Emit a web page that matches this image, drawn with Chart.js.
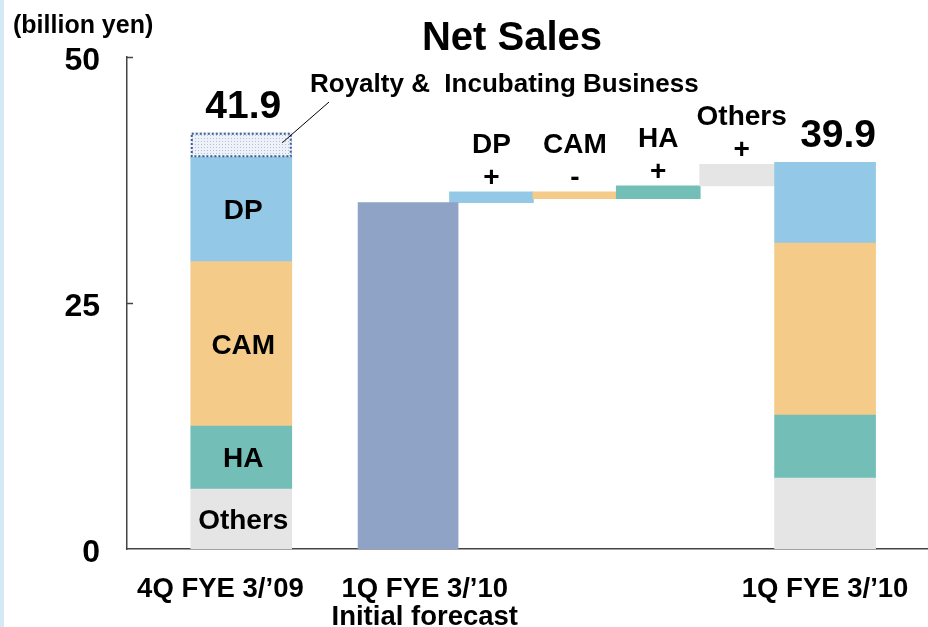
<!DOCTYPE html>
<html>
<head>
<meta charset="utf-8">
<script src="https://cdn.jsdelivr.net/npm/chart.js@4"></script>
<style>
  html, body { margin: 0; padding: 0; background: #fff; }
  #wrap { width: 928px; height: 627px; }
</style>
</head>
<body>
<div id="wrap"><canvas id="chart" width="928" height="627"></canvas></div>
<script>
// x slots (bar position = index in this list, slot 1 is an empty gap)
const slots = ["4Q FYE 3/\u201909", "", ["1Q FYE 3/\u201910", "Initial forecast"], "DP", "CAM", "HA", "Others", "1Q FYE 3/\u201910"];
const labelSlots = [0, 2, 7];
const yTicks = [0, 25, 50];

// stacked segments, bottom to top
const segments = ['Others', 'HA', 'CAM', 'DP'];
const q4FY09 = [6.1, 6.4, 16.7, 10.6];
const royaltyIncubating = 2.5;
const q1FY10 = [7.2, 6.4, 17.5, 8.2];

// waterfall from the initial forecast
const initialForecast = 35.2;
const changeNames = ['DP', 'CAM', 'HA', 'Others'];
const changes = [1.1, -0.7, 1.3, 2.2];

const totalLabels = ['41.9', '39.9'];

const segColors = { Others: '#e5e5e5', HA: '#73bfb7', CAM: '#f4cb89', DP: '#93c9e7' };
const FONT = '"Liberation Sans", Arial, sans-serif';
const bold = px => 'bold ' + px + 'px ' + FONT;

// the category texts sit a little off their bars in the original slide
const labelShift = [-0.25, 0.2, 0];

// dotted fill for the royalty box
function dotPattern() {
    const c = document.createElement('canvas');
    c.width = 3; c.height = 3;
    const g = c.getContext('2d');
    g.fillStyle = '#eef1f7';
    g.fillRect(0, 0, 3, 3);
    g.fillStyle = '#b3c0d9';
    g.fillRect(0, 0, 1, 1);
    return g.createPattern(c, 'repeat');
}

const firstX = 0;
const forecastX = 2;
const lastX = slots.length - 1;

const datasets = [];
let c0 = 0, c1 = 0;
segments.forEach((s, i) => {
    datasets.push({
        label: s,
        data: [
            { x: firstX, y: [c0, c0 + q4FY09[i]] },
            { x: lastX, y: [c1, c1 + q1FY10[i]] }
        ],
        backgroundColor: segColors[s],
        barThickness: 101
    });
    c0 += q4FY09[i];
    c1 += q1FY10[i];
});

datasets.push({
    label: 'Royalty & Incubating Business',
    data: [{ x: firstX, y: [c0, c0 + royaltyIncubating] }],
    backgroundColor: dotPattern(),
    barThickness: 101
});

datasets.push({
    label: 'Initial forecast',
    data: [{ x: forecastX, y: [0, initialForecast] }],
    backgroundColor: '#8fa3c6',
    barThickness: 100
});

let level = initialForecast;
datasets.push({
    label: 'Changes',
    data: changes.map((d, i) => {
        const lo = level;
        level += d;
        return { x: slots.indexOf(changeNames[i]), y: [lo, level] };
    }),
    backgroundColor: changeNames.map(n => segColors[n]),
    barThickness: 84
});

datasets.forEach(d => { d.grouped = false; d.borderWidth = 0; });

const ROYALTY = segments.length;
const WATERFALL = datasets.length - 1;

// texts and small marks drawn on top of the chart
const annotate = {
    id: 'annotate',
    beforeDraw(chart) {
        const ctx = chart.ctx;
        ctx.save();
        ctx.fillStyle = '#fff';
        ctx.fillRect(0, 0, chart.width, chart.height);
        ctx.fillStyle = '#d4e8f6';
        ctx.fillRect(0, 0, 4, chart.height);
        ctx.restore();
    },
    afterDatasetsDraw(chart) {
        const ctx = chart.ctx;
        const yScale = chart.scales.y;
        const left = chart.chartArea.left;
        ctx.save();
        // inward ticks on the y axis
        ctx.strokeStyle = '#444';
        ctx.lineWidth = 1.5;
        yTicks.slice(1).forEach(v => {
            const y = Math.round(yScale.getPixelForValue(v)) + 0.5;
            ctx.beginPath();
            ctx.moveTo(left, y);
            ctx.lineTo(left + 6, y);
            ctx.stroke();
        });
        // dotted border of the royalty box
        const el = chart.getDatasetMeta(ROYALTY).data[0];
        const p = el.getProps(['x', 'y', 'base', 'width'], true);
        ctx.strokeStyle = '#3d5c99';
        ctx.lineWidth = 2;
        ctx.setLineDash([2, 2]);
        ctx.strokeRect(p.x - p.width / 2 + 1, p.y + 1, p.width - 2, p.base - p.y - 2);
        ctx.restore();
    },
    afterDraw(chart) {
        const ctx = chart.ctx;
        ctx.save();
        ctx.fillStyle = '#000';
        ctx.textAlign = 'center';
        ctx.textBaseline = 'alphabetic';

        ctx.font = bold(40);
        ctx.fillText('Net Sales', 512, 50);

        ctx.textAlign = 'left';
        ctx.font = bold(25);
        ctx.fillText('(billion yen)', 13, 33);

        // segment names inside the first bar
        ctx.textAlign = 'center';
        ctx.textBaseline = 'middle';
        ctx.font = bold(28);
        segments.forEach((s, i) => {
            const el = chart.getDatasetMeta(i).data[0];
            ctx.fillText(s, el.x + 2, (el.y + el.base) / 2 + 2);
        });

        // totals
        ctx.textBaseline = 'alphabetic';
        ctx.font = bold(39);
        const roy = chart.getDatasetMeta(ROYALTY).data[0];
        ctx.fillText(totalLabels[0], roy.x + 2, roy.y - 15);
        const top = chart.getDatasetMeta(segments.length - 1).data[1];
        ctx.fillText(totalLabels[1], top.x + 13, top.y - 15);

        // royalty callout
        ctx.textAlign = 'left';
        ctx.font = bold(26);
        ctx.fillText('Royalty &  Incubating Business', 310, 92);
        ctx.strokeStyle = '#000';
        ctx.lineWidth = 1;
        ctx.beginPath();
        ctx.moveTo(329, 102);
        ctx.lineTo(roy.x + 41, roy.y + 10);
        ctx.stroke();

        // waterfall labels
        ctx.textAlign = 'center';
        ctx.font = bold(28);
        chart.getDatasetMeta(WATERFALL).data.forEach((el, i) => {
            const t = Math.min(el.y, el.base);
            ctx.textBaseline = 'alphabetic';
            ctx.fillText(changeNames[i], el.x, t - 39);
            ctx.textBaseline = 'middle';
            ctx.fillText(changes[i] > 0 ? '+' : '-', el.x, t - 14);
        });
        ctx.restore();
    }
};

new Chart(document.getElementById('chart'), {
    type: 'bar',
    data: { datasets },
    plugins: [annotate],
    options: {
        responsive: false,
        animation: false,
        layout: { padding: { top: 57, right: 0, bottom: 0, left: 0 } },
        plugins: { legend: { display: false }, tooltip: { enabled: false } },
        scales: {
            x: {
                type: 'linear',
                offset: false,
                min: -1.37,
                max: 8.234,
                grid: { display: false },
                border: { display: true, color: '#444', width: 1.5 },
                afterFit: s => { s.height = 78; },
                afterBuildTicks: s => {
                    s.ticks = labelSlots.map((v, i) => ({ value: v + labelShift[i] }));
                },
                ticks: {
                    autoSkip: false,
                    maxRotation: 0,
                    padding: 19,
                    color: '#000',
                    font: { family: FONT, size: 27.5, weight: 'bold', lineHeight: 1.0 },
                    callback: v => slots[Math.round(v)]
                }
            },
            y: {
                min: 0,
                max: 50,
                grid: { display: false },
                border: { display: true, color: '#444', width: 1.5 },
                afterFit: s => { s.width = 127; },
                afterBuildTicks: s => { s.ticks = yTicks.map(v => ({ value: v })); },
                ticks: {
                    padding: 19,
                    labelOffset: 4,
                    color: '#000',
                    font: { family: FONT, size: 32, weight: 'bold' }
                }
            }
        }
    }
});
</script>
</body>
</html>
